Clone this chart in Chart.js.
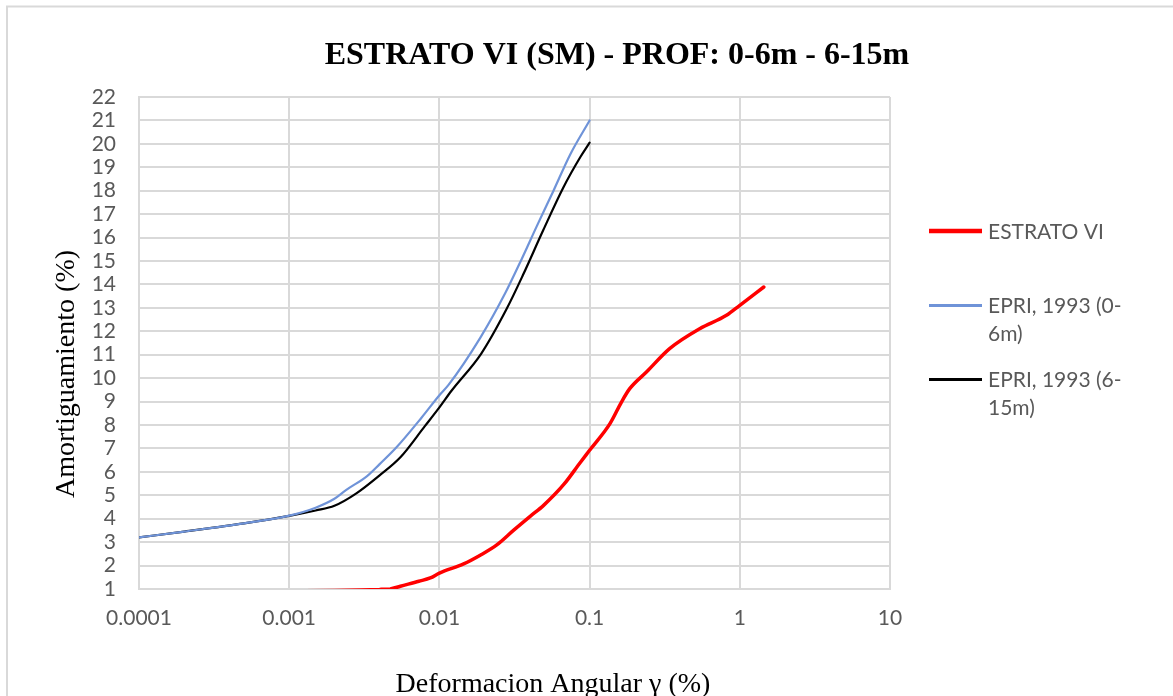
<!DOCTYPE html>
<html>
<head>
<meta charset="utf-8">
<title>ESTRATO VI (SM) - PROF: 0-6m - 6-15m</title>
<script src="https://cdn.jsdelivr.net/npm/chart.js@4.4.1/dist/chart.umd.min.js"></script>
<style>
  html, body { margin: 0; padding: 0; background: #ffffff; overflow: hidden; }
  #wrap { width: 1173px; height: 696px; position: relative; }
</style>
</head>
<body>
<div id="wrap"><canvas id="chart" width="1173" height="696"></canvas></div>
<script>
// Shear strain (%) vs damping ratio (%) curves
const estratoStrain = [0.001, 0.002, 0.003, 0.004, 0.0047, 0.0055, 0.0073, 0.0087, 0.01, 0.0145, 0.0187, 0.0241, 0.0311, 0.0402, 0.0494, 0.0671, 0.0867, 0.1, 0.137, 0.163, 0.185, 0.239, 0.341, 0.541, 0.815, 1, 1.445];
const estratoDamping = [0.92, 0.94, 0.96, 0.98, 1.0, 1.12, 1.33, 1.47, 1.68, 2.07, 2.44, 2.88, 3.5, 4.1, 4.57, 5.45, 6.4, 6.92, 8.07, 8.98, 9.55, 10.26, 11.26, 12.11, 12.68, 13.11, 13.89];

const epri06Strain = [0.0001, 0.0002, 0.0005, 0.001, 0.0015, 0.002, 0.0024, 0.0033, 0.004, 0.0052, 0.0076, 0.01, 0.0115, 0.0187, 0.0274, 0.0354, 0.0446, 0.0575, 0.0743, 0.1];
const epri06Damping = [3.2, 3.45, 3.8, 4.13, 4.47, 4.85, 5.23, 5.82, 6.33, 7.06, 8.31, 9.27, 9.71, 11.72, 13.62, 15.1, 16.5, 18.0, 19.55, 21.0];

const epri615Strain = [0.0001, 0.0002, 0.0005, 0.001, 0.0015, 0.002, 0.0028, 0.004, 0.0055, 0.008, 0.01, 0.012, 0.019, 0.028, 0.036, 0.049, 0.067, 0.087, 0.1];
const epri615Damping = [3.2, 3.45, 3.8, 4.12, 4.35, 4.55, 5.08, 5.85, 6.62, 7.95, 8.75, 9.45, 11.05, 12.95, 14.4, 16.3, 18.15, 19.45, 20.05];

const xTickValues = [0.0001, 0.001, 0.01, 0.1, 1, 10];
const seriesLabels = ['ESTRATO VI', 'EPRI, 1993 (0-6m)', 'EPRI, 1993 (6-15m)'];
const seriesColors = ['#ff0000', '#6f93d8', '#000000'];
const seriesWidths = [3.5, 2.2, 2.2];

const chartTitle = 'ESTRATO VI (SM) - PROF: 0-6m - 6-15m';
const xTitle = 'Deformacion Angular \u03b3 (%)';
const yTitle = 'Amortiguamiento (%)';

const toPoints = (xs, ys) => xs.map((x, i) => ({ x: x, y: ys[i] }));

const TEXT_GRAY = '#595959';
const GRID = '#d9d9d9';
const TICK_FONT = { family: 'Lato', size: 21 };

// Frame, titles and a wrapped legend drawn straight onto the canvas
const decorations = {
  id: 'decorations',
  beforeDraw(chart) {
    const ctx = chart.ctx;
    ctx.save();
    ctx.fillStyle = '#ffffff';
    ctx.fillRect(0, 0, chart.width, chart.height);
    ctx.strokeStyle = GRID;
    ctx.lineWidth = 2;
    ctx.strokeRect(7, 6.5, chart.width + 40, chart.height + 40);
    ctx.restore();
  },
  afterDraw(chart) {
    const ctx = chart.ctx;
    ctx.save();
    ctx.fillStyle = '#000000';
    ctx.textAlign = 'center';
    ctx.textBaseline = 'alphabetic';
    ctx.font = 'bold 32px "Liberation Serif"';
    ctx.fillText(chartTitle, 617, 64);

    ctx.font = '28px "Liberation Serif"';
    ctx.fillText(xTitle, 553, 692);

    ctx.save();
    ctx.translate(74, 374);
    ctx.rotate(-Math.PI / 2);
    ctx.fillText(yTitle, 0, 0);
    ctx.restore();

    // legend
    ctx.font = '21px Lato';
    ctx.textAlign = 'left';
    ctx.textBaseline = 'middle';
    const legendRows = [231, 305.5, 379.5];
    const maxTextWidth = 155;
    chart.data.datasets.forEach((ds, i) => {
      const y = legendRows[i];
      ctx.strokeStyle = ds.borderColor;
      ctx.lineWidth = ds.borderWidth + 0.8;
      ctx.beginPath();
      ctx.moveTo(929, y);
      ctx.lineTo(982, y);
      ctx.stroke();
      // wrap text, allowing breaks after spaces and hyphens
      const tokens = ds.label.match(/[^\s-]+-?\s*|\s+|-/g);
      const lines = [];
      let cur = '';
      tokens.forEach(t => {
        const trial = cur + t;
        if (cur && ctx.measureText(trial.trimEnd()).width > maxTextWidth) {
          lines.push(cur.trimEnd());
          cur = t;
        } else {
          cur = trial;
        }
      });
      if (cur) lines.push(cur.trimEnd());
      ctx.fillStyle = TEXT_GRAY;
      lines.forEach((ln, k) => ctx.fillText(ln, 988, y + 1 + k * 27.5));
    });
    ctx.restore();
  }
};

const datasetsInfo = [
  toPoints(estratoStrain, estratoDamping),
  toPoints(epri06Strain, epri06Damping),
  toPoints(epri615Strain, epri615Damping)
];

new Chart(document.getElementById('chart'), {
  type: 'line',
  data: {
    datasets: datasetsInfo.map((pts, i) => ({
      label: seriesLabels[i],
      data: pts,
      borderColor: seriesColors[i],
      backgroundColor: seriesColors[i],
      borderWidth: seriesWidths[i],
      pointRadius: 0,
      fill: false,
      cubicInterpolationMode: 'monotone',
      clip: 0,
      borderCapStyle: 'round',
      borderJoinStyle: 'round'
    }))
  },
  options: {
    responsive: false,
    devicePixelRatio: 1,
    animation: false,
    layout: { padding: { left: 0, top: 97, right: 283, bottom: 67 } },
    plugins: {
      legend: { display: false },
      title: { display: false },
      tooltip: { enabled: false }
    },
    scales: {
      x: {
        type: 'logarithmic',
        min: 0.0001,
        max: 10,
        afterBuildTicks(scale) {
          scale.ticks = xTickValues.map(v => ({ value: v, major: true }));
        },
        afterFit(scale) { scale.height = 40; },
        ticks: {
          autoSkip: false,
          maxRotation: 0,
          padding: 17,
          color: TEXT_GRAY,
          font: TICK_FONT,
          callback: v => String(v)
        },
        grid: { color: GRID, lineWidth: 2, drawTicks: false },
        border: { color: GRID, width: 2 }
      },
      y: {
        type: 'linear',
        min: 1,
        max: 22,
        afterFit(scale) { scale.width = 139; },
        ticks: {
          stepSize: 1,
          autoSkip: false,
          padding: 23,
          color: TEXT_GRAY,
          font: TICK_FONT
        },
        grid: { color: GRID, lineWidth: 2, drawTicks: false },
        border: { color: GRID, width: 2 }
      }
    }
  },
  plugins: [decorations]
});
</script>
</body>
</html>
